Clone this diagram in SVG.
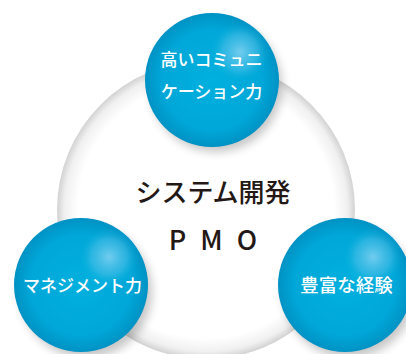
<svg xmlns="http://www.w3.org/2000/svg" width="406" height="354" viewBox="0 0 406 354">
<defs>
<radialGradient id="disc" cx="0.5" cy="0.5" r="0.5">
<stop offset="0.86" stop-color="#ffffff"/>
<stop offset="0.95" stop-color="#f0f0f0"/>
<stop offset="1" stop-color="#d2d2d2"/>
</radialGradient>
<radialGradient id="ball" cx="0.5" cy="0.5" r="0.5">
<stop offset="0" stop-color="#00b0de"/>
<stop offset="0.75" stop-color="#00a7d8"/>
<stop offset="1" stop-color="#0092c4"/>
</radialGradient>
<radialGradient id="hl" cx="0.5" cy="0.5" r="0.5">
<stop offset="0" stop-color="#7fd0f0" stop-opacity="0.9"/>
<stop offset="0.6" stop-color="#5cc4ea" stop-opacity="0.45"/>
<stop offset="1" stop-color="#00b0dc" stop-opacity="0"/>
</radialGradient>
<filter id="sh" x="-30%" y="-30%" width="160%" height="160%">
<feGaussianBlur stdDeviation="5"/>
</filter>
<style>
.lbl{font-family:"Noto Sans CJK JP","Noto Sans",sans-serif;fill:#ffffff;font-weight:500;text-anchor:middle}
.ctr{font-family:"Noto Sans CJK JP","Noto Sans",sans-serif;fill:#231815;font-weight:500;text-anchor:middle}
</style>
</defs>
<rect width="406" height="354" fill="#ffffff"/>
<g id="center">
<circle cx="206" cy="210" r="149" fill="url(#disc)"/>
<text class="ctr" x="213" y="202" font-size="26">システム開発</text>
<text class="ctr" x="220" y="250" font-size="27" letter-spacing="14">PMO</text>
</g>
<g id="shadows" fill="#000000" opacity="0.22" filter="url(#sh)">
<circle cx="216" cy="86" r="66"/>
<circle cx="86" cy="292" r="66"/>
<circle cx="349" cy="292" r="66"/>
</g>
<g id="top">
<circle cx="212" cy="80" r="67" fill="url(#ball)"/>
<circle cx="240" cy="52" r="30" fill="url(#hl)"/>
<text class="lbl" x="211.5" y="66" font-size="17">高いコミュニ</text>
<text class="lbl" x="211.5" y="98" font-size="17">ケーション力</text>
</g>
<g id="left">
<circle cx="81" cy="285" r="67" fill="url(#ball)"/>
<circle cx="109" cy="257" r="30" fill="url(#hl)"/>
<text class="lbl" x="82.5" y="292" font-size="17">マネジメント力</text>
</g>
<g id="right">
<circle cx="345" cy="285" r="67" fill="url(#ball)"/>
<circle cx="373" cy="257" r="30" fill="url(#hl)"/>
<text class="lbl" x="346.5" y="292" font-size="18.5">豊富な経験</text>
</g>
</svg>
